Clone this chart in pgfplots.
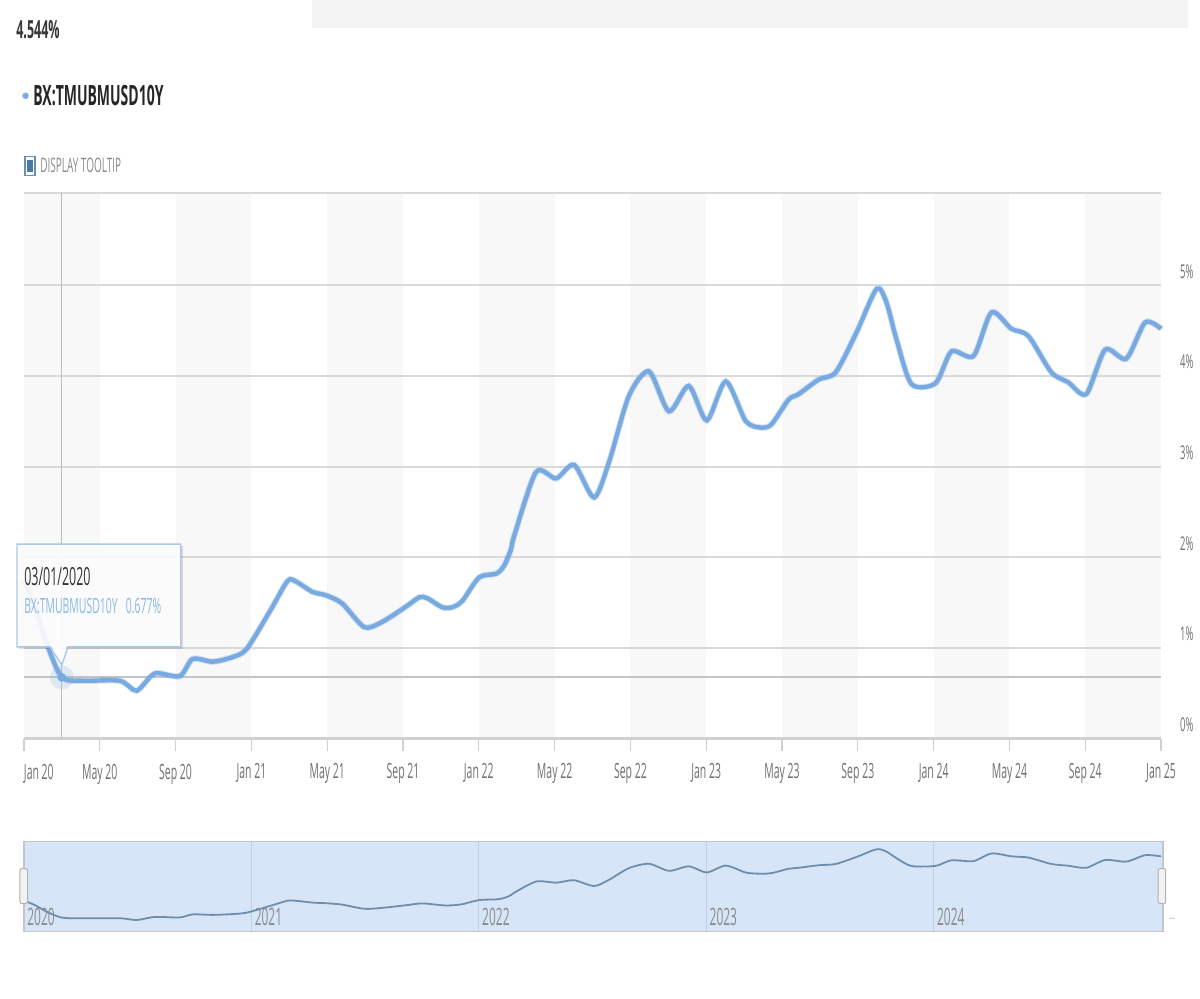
\documentclass[border=0pt]{standalone}
\usepackage{fontspec}
\setmainfont{Open Sans}[FakeStretch=0.5]
\usepackage{pgfplots}
\pgfplotsset{compat=1.18}
\usepackage{pgfplotstable}
\definecolor{lineblue}{HTML}{78AAE1}
\definecolor{bandgray}{HTML}{F8F8F8}
\definecolor{gridgray}{HTML}{DADADA}
\definecolor{labgray}{HTML}{707070}
\definecolor{navfill}{HTML}{D6E6F8}
\definecolor{navline}{HTML}{6F8DAD}
\definecolor{tipborder}{HTML}{A9C8E8}
\definecolor{tipblue}{HTML}{8CB8E6}
\definecolor{topbar}{HTML}{F3F3F3}
\definecolor{cbborder}{HTML}{6C8EB5}
\definecolor{cbfill}{HTML}{4F77A6}
\definecolor{dtgray}{HTML}{8A8A8A}
\definecolor{tickgray}{HTML}{D0D0D0}
\definecolor{crossv}{HTML}{BDBDBD}
\definecolor{crossh}{HTML}{C4C4C4}
\definecolor{navborder}{HTML}{C5C5C5}
\definecolor{navgrid}{HTML}{BFCFE0}
\definecolor{handleb}{HTML}{B0B0B0}
\definecolor{handlef}{HTML}{F2F2F2}
\definecolor{dotsgray}{HTML}{9A9A9A}

\pgfplotstableread{
m v
0 1.75
0.6 1.45
1.2 1.05
2.0 0.677
3.1 0.64
5.06 0.64
5.95 0.53
6.9 0.72
8.22 0.69
8.9 0.88
9.96 0.85
11.0 0.90
11.75 0.99
12.96 1.40
13.91 1.74
14.38 1.73
15.22 1.62
15.96 1.58
16.8 1.49
17.96 1.23
18.91 1.29
20.18 1.46
20.86 1.56
21.28 1.55
22.07 1.45
22.6 1.45
23.13 1.52
24.02 1.78
24.92 1.82
25.34 1.91
25.7 2.09
25.87 2.24
27.02 2.94
28.08 2.87
29.03 3.02
30.08 2.66
30.87 3.05
31.92 3.78
32.98 4.05
34.03 3.61
35.08 3.89
36.03 3.51
37.03 3.94
38.09 3.50
38.93 3.43
39.46 3.47
40.35 3.74
40.88 3.80
41.93 3.96
42.83 4.04
43.93 4.48
44.99 4.96
45.51 4.81
46.04 4.40
46.83 3.91
48.1 3.92
48.94 4.27
50.1 4.22
51.05 4.70
52.1 4.52
53.0 4.44
54.21 4.04
55.1 3.93
56.05 3.80
57.05 4.29
58.16 4.19
59.16 4.59
60 4.52
}\yields

\begin{document}
\begin{tikzpicture}
% header
\fill[topbar] (156.5pt,0) rectangle (595pt,-14pt);
\node[anchor=west, inner sep=0pt, text=black!78, font=\fontsize{12.5pt}{14pt}\selectfont\bfseries] at (8pt,-15pt) {4.544\%};
\fill[lineblue] (12.8pt,-48pt) circle (1.6pt);
\node[anchor=west, inner sep=0pt, text=black!85, font=\fontsize{14pt}{16pt}\selectfont\bfseries] at (16.5pt,-48pt) {BX:TMUBMUSD10Y};
\draw[cbborder, line width=0.6pt] (12.5pt,-78.5pt) rectangle (17.5pt,-88pt);
\fill[cbfill] (13.6pt,-80.3pt) rectangle (16.4pt,-86.2pt);
\node[anchor=west, inner sep=0pt, text=dtgray, font=\fontsize{10pt}{12pt}\selectfont] at (20pt,-83pt) {DISPLAY TOOLTIP};

\begin{axis}[
  at={(12pt,-370pt)}, anchor=south west,
  width=569.5pt, height=273.5pt, scale only axis,
  xmin=0, xmax=60, ymin=0, ymax=6.02,
  set layers,
  axis line style={draw=none},
  xtick={0,4,...,60},
  xticklabels={\makebox[0pt][l]{Jan 20},May 20,Sep 20,Jan 21,May 21,Sep 21,Jan 22,May 22,Sep 22,Jan 23,May 23,Sep 23,Jan 24,May 24,Sep 24,Jan 25},
  xtick pos=left, tick align=outside, major tick length=6pt,
  xtick style={draw=tickgray, line width=0.6pt},
  xticklabel style={font=\fontsize{10.5pt}{12pt}\selectfont, text=labgray, yshift=-3pt},
  ytick={0,1,2,3,4,5,6.02},
  yticklabels={0\%,1\%,2\%,3\%,4\%,5\%,},
  ytick style={draw=none},
  yticklabel pos=right,
  yticklabel style={font=\fontsize{9.5pt}{11pt}\selectfont, text=labgray, anchor=west, yshift=7pt, xshift=0pt},
  ymajorgrids,
  grid style={draw=gridgray, line width=1pt},
  /pgf/number format/assume math mode=true,
  clip=false,
]
\begin{pgfonlayer}{axis background}
\fill[bandgray] (axis cs:0,0) rectangle (axis cs:4,6.02);
\fill[bandgray] (axis cs:8,0) rectangle (axis cs:12,6.02);
\fill[bandgray] (axis cs:16,0) rectangle (axis cs:20,6.02);
\fill[bandgray] (axis cs:24,0) rectangle (axis cs:28,6.02);
\fill[bandgray] (axis cs:32,0) rectangle (axis cs:36,6.02);
\fill[bandgray] (axis cs:40,0) rectangle (axis cs:44,6.02);
\fill[bandgray] (axis cs:48,0) rectangle (axis cs:52,6.02);
\fill[bandgray] (axis cs:56,0) rectangle (axis cs:60,6.02);
\end{pgfonlayer}
\draw[tickgray, line width=1.4pt] (axis cs:0,0) -- (axis cs:60,0);
\draw[crossv, line width=0.6pt] (axis cs:2,0) -- (axis cs:2,6.02);
\draw[crossh, line width=1pt] (axis cs:0,0.677) -- (axis cs:60,0.677);
\addplot[lineblue, opacity=0.3, line width=3.2pt, smooth, tension=0.45] table[x=m,y=v] {\yields};
\addplot[lineblue, line width=2.2pt, smooth, tension=0.45] table[x=m,y=v] {\yields};
\addplot[only marks, mark=*, mark size=6pt, color=lineblue, fill opacity=0.2, draw opacity=0] coordinates {(2,0.677)};
\addplot[only marks, mark=*, mark size=2.2pt, color=lineblue, draw opacity=0] coordinates {(2,0.677)};
\end{axis}

% tooltip
\fill[black, opacity=0.12] (9.5pt,-273.5pt) rectangle (91.5pt,-325pt);
\fill[white, opacity=0.9] (8.5pt,-272.5pt) rectangle (90.5pt,-324pt);
\draw[tipborder, line width=0.7pt] (8.5pt,-272.5pt) -- (90.5pt,-272.5pt) -- (90.5pt,-324pt) -- (34pt,-324pt) -- (31pt,-333pt) -- (25pt,-324pt) -- (8.5pt,-324pt) -- cycle;
\fill[white, opacity=0.9] (25.6pt,-323.6pt) -- (31pt,-332pt) -- (33.4pt,-323.6pt) -- cycle;
\node[anchor=west, inner sep=0pt, text=black!80, font=\fontsize{12.5pt}{14pt}\selectfont] at (12pt,-289pt) {03/01/2020};
\node[anchor=west, inner sep=0pt, text=tipblue, font=\fontsize{10.5pt}{12pt}\selectfont] at (12pt,-303.5pt) {BX:TMUBMUSD10Y\hspace{4pt}0.677\%};

% navigator
\begin{axis}[
  at={(12pt,-466.5pt)}, anchor=south west,
  width=570.5pt, height=45pt, scale only axis,
  xmin=0, xmax=60.105, ymin=-0.19, ymax=5.44,
  axis background/.style={fill=navfill},
  axis line style={draw=navborder, line width=0.8pt},
  xtick=\empty, ytick=\empty,
  clip=false,
]
\draw[navgrid, line width=0.5pt] (axis cs:12,-0.19) -- (axis cs:12,5.44);
\draw[navgrid, line width=0.5pt] (axis cs:24,-0.19) -- (axis cs:24,5.44);
\draw[navgrid, line width=0.5pt] (axis cs:36,-0.19) -- (axis cs:36,5.44);
\draw[navgrid, line width=0.5pt] (axis cs:48,-0.19) -- (axis cs:48,5.44);
\addplot[navline, line width=0.9pt, smooth, tension=0.45] table[x=m,y=v] {\yields};
\node[anchor=west, inner sep=0pt, text=dtgray, font=\fontsize{12pt}{14pt}\selectfont] at (axis cs:0,0.75) {\hspace{1.5pt}2020};
\node[anchor=west, inner sep=0pt, text=dtgray, font=\fontsize{12pt}{14pt}\selectfont] at (axis cs:12,0.75) {\hspace{1.5pt}2021};
\node[anchor=west, inner sep=0pt, text=dtgray, font=\fontsize{12pt}{14pt}\selectfont] at (axis cs:24,0.75) {\hspace{1.5pt}2022};
\node[anchor=west, inner sep=0pt, text=dtgray, font=\fontsize{12pt}{14pt}\selectfont] at (axis cs:36,0.75) {\hspace{1.5pt}2023};
\node[anchor=west, inner sep=0pt, text=dtgray, font=\fontsize{12pt}{14pt}\selectfont] at (axis cs:48,0.75) {\hspace{1.5pt}2024};
\end{axis}
\draw[handleb, fill=handlef, rounded corners=1pt, line width=0.5pt] (10pt,-435pt) rectangle (13.8pt,-452.5pt);
\draw[handleb, fill=handlef, rounded corners=1pt, line width=0.5pt] (580pt,-435pt) rectangle (583.8pt,-452.5pt);
\node[anchor=west, inner sep=0pt, text=dotsgray, font=\fontsize{7pt}{8pt}\selectfont] at (585.5pt,-460pt) {...};
\useasboundingbox (0,0) rectangle (600pt,-500pt);
\end{tikzpicture}
\end{document}
